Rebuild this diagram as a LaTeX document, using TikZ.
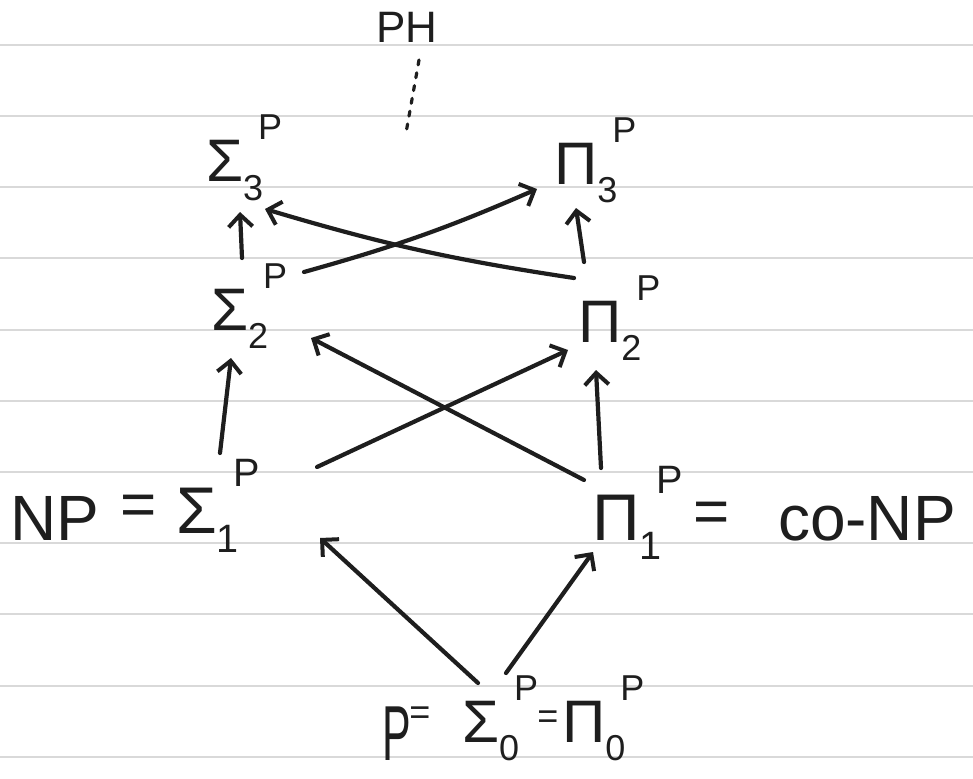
\documentclass[tikz,border=0pt]{standalone}
\usepackage{fontspec}
\usepackage{graphicx}
\setmainfont{Liberation Sans}
\usetikzlibrary{arrows.meta,calc}
\definecolor{ink}{HTML}{1E1E1E}
\definecolor{rulecol}{HTML}{D9D9D9}
\newcommand\hier[2]{#1\rlap{\raisebox{-0.3em}{\scalebox{0.6}{#2}}}\hspace{0.25em}\raisebox{0.7em}{\scalebox{0.6}{P}}}
\begin{document}
\begin{tikzpicture}[x=1pt,y=-1pt,
  lab/.style={inner sep=0pt, outer sep=0pt, text=ink, anchor=base west, font=\fontsize{60}{70}\selectfont},
  eqs/.style={inner sep=0pt, outer sep=0pt, text=ink, anchor=center, font=\fontsize{62}{66}\selectfont},
  smalleq/.style={eqs, font=\fontsize{36}{40}\selectfont},
  arr/.style={draw=ink, line width=4.2pt, line cap=round, line join=round,
    -{Straight Barb[length=12pt,width=24pt,line width=4pt]}},
  dots/.style={draw=ink, line width=3.2pt, line cap=round, dash pattern=on 5pt off 8pt},
  ruled/.style={draw=rulecol, line width=2.4pt}]
\useasboundingbox[fill=white] (0,0) rectangle (973,778);
\foreach \yy in {45,116,187,258,330,401,472,543,614,686,757}
  \draw[ruled] (0,\yy) -- (973,\yy);

% labels
\node[lab, font=\fontsize{44}{50}\selectfont] (ph) at (376,43) {PH};
\node[lab] (s3) at (206,182) {\hier{Σ}{3}};
\node[lab] (q3) at (554,184) {\hier{Π}{3}};
\node[lab] (s2) at (211,330) {\hier{Σ}{2}};
\node[lab] (q2) at (578,342) {\hier{Π}{2}};
\node[lab, font=\fontsize{66}{70}\selectfont] (s1) at (176,533) {\hier{Σ}{1}};
\node[lab, font=\fontsize{66}{70}\selectfont] (q1) at (592,540) {\hier{Π}{1}};
\node[lab, font=\fontsize{64}{70}\selectfont] (np) at (10,540) {NP};
\node[eqs] (e1) at (139,510) {=};
\node[eqs] (e2) at (712,517) {=};
\node[lab, font=\fontsize{64}{70}\selectfont] (conp) at (778,540) {co-NP};
\node[lab, font=\fontsize{78}{80}\selectfont] (pp) at (382,760) {\scalebox{0.55}[1]{P}};
\node[smalleq] (e3) at (420,716) {=};
\node[lab] (s0) at (462,742) {\hier{Σ}{0}};
\node[smalleq] (e4) at (548,720) {=};
\node[lab] (q0) at (562,742) {\hier{Π}{0}};

% dotted continuation
\coordinate (dotend) at (406,133);
\draw[dots] ($(ph.base west)+(43,17)$) -- (dotend);

% arrows
\draw[arr] ($(s2.base west)+(31,-72)$) -- ($(s3.base west)+(34,30)$);
\draw[arr] ($(q2.base west)+(6,-80)$) -- ($(q3.base west)+(22,24)$);
\draw[arr] ($(s2.base west)+(93,-58)$) to[bend right=4] ($(q3.base west)+(-17,5)$);
\draw[arr] ($(q2.base west)+(-4,-64)$) to[bend left=4] ($(s3.base west)+(59,27)$);
\draw[arr] ($(s1.base west)+(44,-80)$) -- ($(s2.base west)+(20,28)$);
\draw[arr] ($(q1.base west)+(9,-72)$) -- ($(q2.base west)+(18,28)$);
\draw[arr] ($(s1.base west)+(141,-66)$) -- ($(q2.base west)+(-10,8)$);
\draw[arr] ($(q1.base west)+(-8,-60)$) -- ($(s2.base west)+(100,8)$);
\draw[arr] ($(s0.base west)+(16,-59)$) -- ($(s1.base west)+(144,5)$);
\draw[arr] ($(s0.base west)+(44,-69)$) -- ($(q1.base west)+(1,12)$);
\end{tikzpicture}
\end{document}
